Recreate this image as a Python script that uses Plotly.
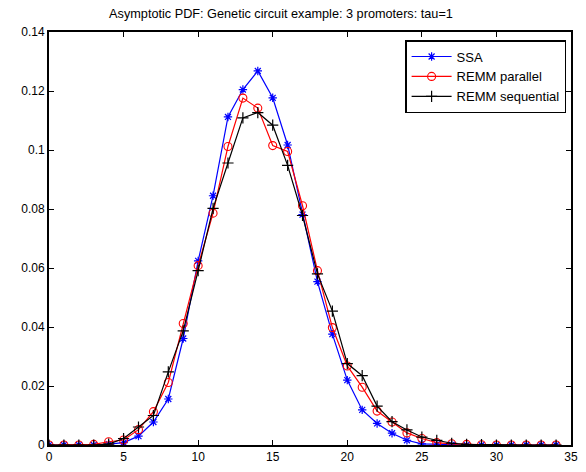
import plotly.graph_objects as go

x = list(range(0, 35))

ssa = [0, 0, 0, 0, 0.0003, 0.0008, 0.0030, 0.0078, 0.0156, 0.0361,
       0.0624, 0.0845, 0.1112, 0.1205, 0.1268, 0.1177, 0.1017, 0.0781, 0.0554, 0.0376,
       0.0220, 0.0119, 0.0073, 0.0040, 0.0016, 0.0004, 0.0002, 0.0001, 0, 0,
       0, 0, 0, 0, 0]

remm_par = [0, 0, 0, 0.0002, 0.0011, 0.0017, 0.0052, 0.0113, 0.0212, 0.0412,
            0.0608, 0.0786, 0.1012, 0.1176, 0.1142, 0.1015, 0.0995, 0.0811, 0.0591, 0.0398,
            0.0268, 0.0196, 0.0115, 0.0078, 0.0041, 0.0022, 0.0008, 0.0004, 0.0002, 0.0001,
            0, 0, 0, 0, 0]

remm_seq = [0, 0, 0, 0, 0.0003, 0.0022, 0.0061, 0.0100, 0.0248, 0.0387,
            0.0591, 0.0802, 0.0956, 0.1109, 0.1127, 0.1084, 0.0948, 0.0778, 0.0580, 0.0454,
            0.0276, 0.0235, 0.0132, 0.0079, 0.0051, 0.0027, 0.0016, 0.0006, 0.0002, 0.0001,
            0, 0, 0, 0, 0]

fig = go.Figure()
fig.add_trace(go.Scatter(
    x=x, y=ssa, name="SSA", mode="lines+markers",
    line=dict(color="#0000ff", width=1.2),
    marker=dict(symbol="asterisk-open", size=7, color="#0000ff",
                line=dict(color="#0000ff", width=1.2)),
))
fig.add_trace(go.Scatter(
    x=x, y=remm_par, name="REMM parallel", mode="lines+markers",
    line=dict(color="#ff0000", width=1.2),
    marker=dict(symbol="circle-open", size=8, color="#ff0000",
                line=dict(color="#ff0000", width=1.1)),
))
fig.add_trace(go.Scatter(
    x=x, y=remm_seq, name="REMM sequential", mode="lines+markers",
    line=dict(color="#000000", width=1.2),
    marker=dict(symbol="cross-thin-open", size=8, color="#000000",
                line=dict(color="#000000", width=1.2)),
))

axis_common = dict(
    showline=True, linecolor="black", linewidth=1.8, mirror="ticks",
    ticks="inside", ticklen=5, tickwidth=1, tickcolor="black",
    showgrid=False, zeroline=False,
    tickfont=dict(family="Liberation Sans, Arial, sans-serif", size=12, color="black"),
)

fig.update_layout(
    width=586, height=472,
    margin=dict(l=49, r=8, t=32, b=21),
    paper_bgcolor="white", plot_bgcolor="white",
    title=dict(
        text="Asymptotic PDF: Genetic circuit example: 3 promoters: tau=1",
        x=281 / 586, xanchor="center", y=1 - 14 / 472, yanchor="middle",
        font=dict(family="Liberation Sans, Arial, sans-serif", size=12.7, color="black"),
    ),
    xaxis=dict(range=[0, 35], tickvals=[0, 5, 10, 15, 20, 25, 30, 35],
               ticktext=["0", "5", "10", "15", "20", "25", "30", "35"], **axis_common),
    yaxis=dict(range=[0, 0.14], tickvals=[0, 0.02, 0.04, 0.06, 0.08, 0.1, 0.12, 0.14],
               ticktext=["0", "0.02", "0.04", "0.06", "0.08", "0.1", "0.12", "0.14"],
               **axis_common),
    legend=dict(
        x=0.991, y=0.98, xanchor="right", yanchor="top",
        bgcolor="white", bordercolor="black", borderwidth=1.3,
        font=dict(family="Liberation Sans, Arial, sans-serif", size=13, color="black"),
        tracegroupgap=0, itemwidth=40,
    ),
    showlegend=True,
)

fig.write_html("out.html")
